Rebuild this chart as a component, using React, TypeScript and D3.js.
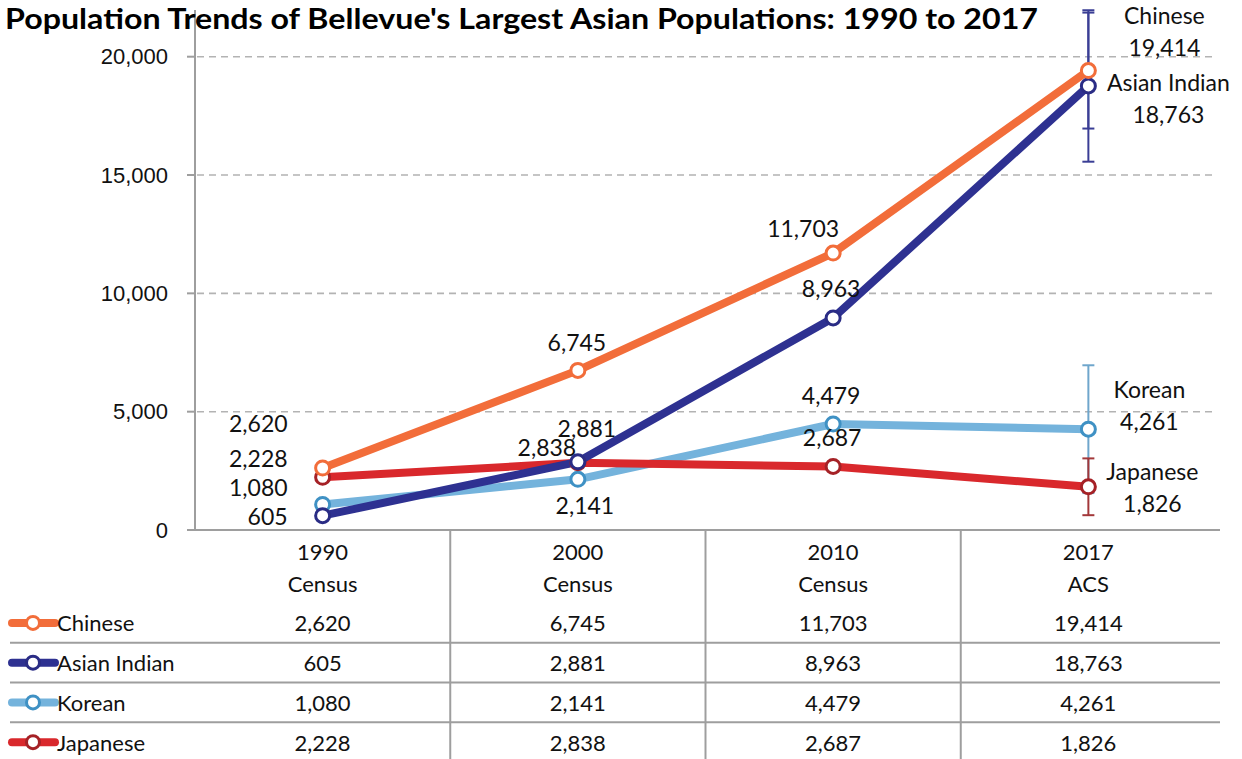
import React from "react";
import * as d3 from "d3";

const title = "Population Trends of Bellevue's Largest Asian Populations: 1990 to 2017";
const categoryYears = ["1990", "2000", "2010", "2017"];
const categorySources = ["Census", "Census", "Census", "ACS"];
const seriesNames = ["Chinese", "Asian Indian", "Korean", "Japanese"];
const chinese = [2620, 6745, 11703, 19414];
const asianIndian = [605, 2881, 8963, 18763];
const korean = [1080, 2141, 4479, 4261];
const japanese = [2228, 2838, 2687, 1826];
const errorMargins2017 = [2450, 3200, 2700, 1200];
const yTicks = [0, 5000, 10000, 15000, 20000];

const seriesValues = [chinese, asianIndian, korean, japanese];
const lineColors = ["#F26D3A", "#2E3191", "#74B3DC", "#D9282C"];
const markerStroke = ["#F26D3A", "#2A2C85", "#3F91C4", "#A52126"];
const errColors = ["#3A3E95", "#3A3E95", "#6FA6CC", "#A3383A"];

// label offsets (dx, dy) relative to each point, plus anchor
const labelOffsets: [number, number, string][][] = [
  [[-35, -45, "end"], [-1, -28, "middle"], [-30, -25, "middle"], [76, -40, "middle"]],
  [[-35, 0, "end"], [9, -34, "middle"], [-2, -30, "middle"], [80, 12, "middle"]],
  [[-35, -17, "end"], [7, 26, "middle"], [-2, -29, "middle"], [61, -24, "middle"]],
  [[-35, -19, "end"], [-31, -16, "middle"], [-1, -29, "middle"], [64, 0, "middle"]],
];

const labelFont = "Lato, 'Open Sans', sans-serif";
const fmt = d3.format(",");

export default function App() {
  const W = 1242, H = 759;
  const x = d3.scaleBand<string>().domain(categoryYears).range([195, 1216]).padding(0);
  const y = d3.scaleLinear().domain([0, 20000]).range([530, 56.7]);
  const rows = d3.scaleBand<string>().domain(seriesNames).range([603, 762]);
  const cx = (i: number) => (x(categoryYears[i]) as number) + x.bandwidth() / 2;
  const line = d3
    .line<number>()
    .x((_, i) => cx(i))
    .y((v) => y(v));

  const gridColor = "#B3B3B3";
  const axisColor = "#9E9E9E";

  return (
    <svg
      width={W}
      height={H}
      style={{ position: "absolute", left: 0, top: 0, display: "block", background: "#fff" }}
    >
      <rect x={0} y={0} width={W} height={H} fill="#fff" />
      {/* gridlines */}
      {yTicks
        .filter((t) => t > 0)
        .map((t) => (
          <line
            key={"g" + t}
            x1={197}
            x2={1215}
            y1={y(t)}
            y2={y(t)}
            stroke={gridColor}
            strokeWidth={1.6}
            strokeDasharray="7 5"
          />
        ))}
      {/* y axis */}
      <line x1={195} x2={195} y1={10} y2={530} stroke={axisColor} strokeWidth={2} />
      {yTicks.map((t) => (
        <g key={"t" + t}>
          <line x1={187} x2={195} y1={y(t)} y2={y(t)} stroke={axisColor} strokeWidth={2} />
          <text
            x={168}
            y={y(t)}
            textAnchor="end"
            dominantBaseline="central"
            fontFamily="'Liberation Sans', Arial, sans-serif"
            fontSize={22}
            fill="#111"
          >
            {fmt(t)}
          </text>
        </g>
      ))}
      {/* x axis */}
      <line x1={188} x2={1220} y1={530} y2={530} stroke={axisColor} strokeWidth={2} />
      {/* table lines */}
      {categoryYears.slice(1).map((c) => (
        <line
          key={"v" + c}
          x1={x(c) as number}
          x2={x(c) as number}
          y1={530}
          y2={H}
          stroke={axisColor}
          strokeWidth={2}
        />
      ))}
      {seriesNames.slice(1).map((s) => (
        <line
          key={"h" + s}
          x1={10}
          x2={1220}
          y1={rows(s) as number}
          y2={rows(s) as number}
          stroke={axisColor}
          strokeWidth={2}
        />
      ))}
      {/* title */}
      <text
        x={5}
        y={29}
        fontFamily={labelFont}
        fontWeight={700}
        fontSize={28}
        fill="#000"
        textLength={1033}
        lengthAdjust="spacingAndGlyphs"
      >
        {title}
      </text>
      {/* error bars at 2017 (drawn behind lines) */}
      {[2, 3, 0, 1].map((si) => {
        const v = seriesValues[si][3];
        const m = errorMargins2017[si];
        const px = cx(3);
        const col = errColors[si];
        return (
          <g key={"e" + si}>
            <line x1={px} x2={px} y1={y(v + m)} y2={y(v - m)} stroke={col} strokeWidth={2} />
            <line x1={px - 6} x2={px + 6} y1={y(v + m)} y2={y(v + m)} stroke={col} strokeWidth={2} />
            <line x1={px - 6} x2={px + 6} y1={y(v - m)} y2={y(v - m)} stroke={col} strokeWidth={2} />
          </g>
        );
      })}
      {/* lines */}
      {[2, 3, 1, 0].map((si) => (
        <path
          key={"l" + si}
          d={line(seriesValues[si]) || ""}
          fill="none"
          stroke={lineColors[si]}
          strokeWidth={8}
          strokeLinejoin="round"
          strokeLinecap="round"
        />
      ))}
      {/* markers */}
      {[2, 3, 1, 0].map((si) =>
        seriesValues[si].map((v, i) => (
          <circle
            key={"m" + si + "-" + i}
            cx={cx(i)}
            cy={y(v)}
            r={7}
            fill="#fff"
            stroke={markerStroke[si]}
            strokeWidth={3}
          />
        ))
      )}
      {/* data labels */}
      {seriesValues.map((vals, si) =>
        vals.map((v, i) => {
          const [dx, dy, anchor] = labelOffsets[si][i];
          const px = cx(i) + dx;
          const py = y(v) + dy;
          if (i === 3) {
            return (
              <g key={"dl" + si + "-" + i}>
                <text
                  x={px}
                  y={py - 16}
                  textAnchor="middle"
                  dominantBaseline="central"
                  fontFamily={labelFont}
                  fontSize={23}
                  fill="#111"
                >
                  {seriesNames[si]}
                </text>
                <text
                  x={px}
                  y={py + 16}
                  textAnchor="middle"
                  dominantBaseline="central"
                  fontFamily={labelFont}
                  fontSize={23}
                  fill="#111"
                >
                  {fmt(v)}
                </text>
              </g>
            );
          }
          return (
            <text
              key={"dl" + si + "-" + i}
              x={px}
              y={py}
              textAnchor={anchor as any}
              dominantBaseline="central"
              fontFamily={labelFont}
              fontSize={23}
              fill="#111"
            >
              {fmt(v)}
            </text>
          );
        })
      )}
      {/* category header */}
      {categoryYears.map((c, i) => (
        <g key={"c" + c}>
          <text
            x={cx(i)}
            y={551}
            textAnchor="middle"
            dominantBaseline="central"
            fontFamily={labelFont}
            fontSize={22}
            fill="#111"
          >
            {c}
          </text>
          <text
            x={cx(i)}
            y={583}
            textAnchor="middle"
            dominantBaseline="central"
            fontFamily={labelFont}
            fontSize={22}
            fill="#111"
          >
            {categorySources[i]}
          </text>
        </g>
      ))}
      {/* table rows */}
      {seriesNames.map((s, si) => {
        const ry = (rows(s) as number) + rows.bandwidth() / 2;
        return (
          <g key={"r" + s}>
            <line x1={12} x2={55} y1={ry} y2={ry} stroke={lineColors[si]} strokeWidth={8} strokeLinecap="round" />
            <circle cx={33} cy={ry} r={6.5} fill="#fff" stroke={markerStroke[si]} strokeWidth={3} />
            <text
              x={57}
              y={ry}
              dominantBaseline="central"
              fontFamily={labelFont}
              fontSize={22}
              fill="#111"
            >
              {s}
            </text>
            {seriesValues[si].map((v, i) => (
              <text
                key={"tv" + i}
                x={cx(i)}
                y={ry}
                textAnchor="middle"
                dominantBaseline="central"
                fontFamily={labelFont}
                fontSize={22}
                fill="#111"
              >
                {fmt(v)}
              </text>
            ))}
          </g>
        );
      })}
    </svg>
  );
}
